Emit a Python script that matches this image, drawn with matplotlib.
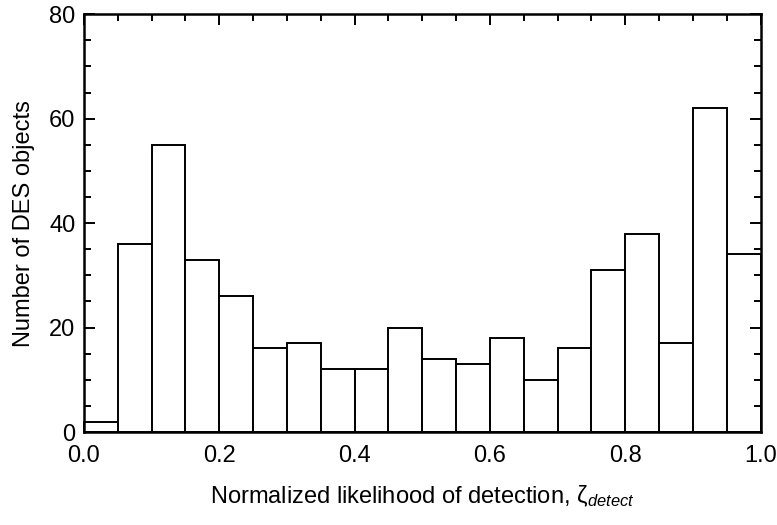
import numpy as np
import matplotlib
matplotlib.use("Agg")
import matplotlib.pyplot as plt
from matplotlib.ticker import MultipleLocator

# Histogram of normalized detection likelihood, 20 bins over [0, 1]
bin_edges = [0.00, 0.05, 0.10, 0.15, 0.20, 0.25, 0.30, 0.35, 0.40, 0.45, 0.50,
             0.55, 0.60, 0.65, 0.70, 0.75, 0.80, 0.85, 0.90, 0.95, 1.00]
counts = [2, 36, 55, 33, 26, 16, 17, 12, 12, 20,
          14, 13, 18, 10, 16, 31, 38, 17, 62, 34]

plt.rcParams["font.family"] = ["Liberation Sans", "DejaVu Sans"]
plt.rcParams["mathtext.fontset"] = "custom"
plt.rcParams["mathtext.rm"] = "Liberation Sans"
plt.rcParams["mathtext.it"] = "Liberation Sans:italic"

fig = plt.figure(figsize=(7.77, 5.25), dpi=100)
ax = fig.add_axes([0.108, 0.177, 0.871, 0.796])

left = np.array(bin_edges[:-1])
widths = np.diff(bin_edges)
ax.bar(left, counts, width=widths, align="edge", facecolor="white",
       edgecolor="black", linewidth=1.4)

ax.set_xlim(0, 1)
ax.set_ylim(0, 80)
ax.xaxis.set_major_locator(MultipleLocator(0.2))
ax.xaxis.set_minor_locator(MultipleLocator(0.05))
ax.yaxis.set_major_locator(MultipleLocator(20))
ax.yaxis.set_minor_locator(MultipleLocator(5))
ax.set_xticklabels([f"{v:.1f}" for v in ax.get_xticks()])

ax.tick_params(which="both", direction="in", top=True, right=True,
               width=1.4, labelsize=17)
ax.tick_params(axis="x", pad=9)
ax.tick_params(axis="y", pad=6)
ax.tick_params(which="major", length=8)
ax.tick_params(which="minor", length=5)
for s in ax.spines.values():
    s.set_linewidth(1.8)

ax.set_xlabel(r"Normalized likelihood of detection, $\mathrm{\zeta}_{detect}$",
              fontsize=17, labelpad=12)
ax.set_ylabel("Number of DES objects", fontsize=17, labelpad=10)

fig.savefig("out.png", dpi=100)
